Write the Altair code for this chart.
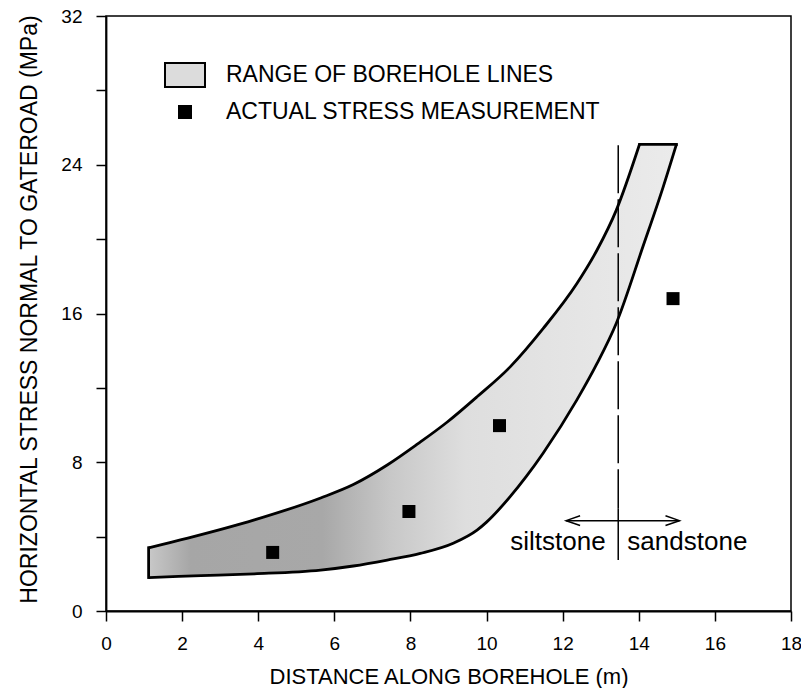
import altair as alt
import pandas as pd

# ---- data ----
lower_x = [1.12, 2.5, 3.9, 5.64, 6.5, 7.39, 8.26, 9.14, 9.75, 10.0, 10.62, 11.05, 11.49, 12.37, 12.9, 13.41, 14.11, 14.64, 14.99]
lower_y = [1.80, 1.90, 2.00, 2.20, 2.42, 2.74, 3.10, 3.66, 4.35, 4.78, 6.15, 7.25, 8.50, 11.34, 13.3, 15.48, 19.6, 22.8, 25.1]
upper_x = [1.12, 2.15, 3.9, 5.64, 6.5, 7.39, 8.2, 8.96, 9.75, 10.62, 11.49, 12.37, 12.9, 13.41, 14.02]
upper_y = [3.40, 3.92, 4.9, 6.08, 6.8, 7.85, 9.0, 10.15, 11.52, 13.13, 15.2, 17.6, 19.4, 21.56, 25.1]

meas_x = [4.38, 7.96, 10.34, 14.9]
meas_y = [3.15, 5.35, 9.97, 16.8]

series_names = ["RANGE OF BOREHOLE LINES", "ACTUAL STRESS MEASUREMENT"]

boundary_x = 13.46
boundary_top = 25.05
boundary_mid = 5.5
boundary_bottom = 2.74
arrow_y = 4.86
arrow_left = 12.09
arrow_right = 15.07
rock_labels = ["siltstone", "sandstone"]
rock_label_x = [13.13, 13.70]
rock_label_y = 3.28

x_ticks = list(range(0, 19, 2))
y_ticks = list(range(0, 33, 4))

# ---- frames ----
poly_x = lower_x + upper_x[::-1] + [lower_x[0]]
poly_y = lower_y + upper_y[::-1] + [lower_y[0]]
band = pd.DataFrame({"x": poly_x, "y": poly_y, "i": list(range(len(poly_x)))})
lower_df = pd.DataFrame({"x": lower_x, "y": lower_y})
upper_df = pd.DataFrame({"x": upper_x, "y": upper_y})
left_edge = pd.DataFrame({"x": [lower_x[0]], "y": [lower_y[0]], "y2": [upper_y[0]]})
top_edge = pd.DataFrame({"x": [upper_x[-1]], "x2": [lower_x[-1]], "y": [lower_y[-1]]})
meas = pd.DataFrame({"x": meas_x, "y": meas_y, "series": [series_names[1]] * len(meas_x)})
dash_df = pd.DataFrame({"x": [boundary_x], "y": [boundary_top], "y2": [boundary_mid]})
solid_df = pd.DataFrame({"x": [boundary_x], "y": [boundary_mid], "y2": [boundary_bottom]})
arrow_df = pd.DataFrame({"x": [arrow_left], "x2": [arrow_right], "y": [arrow_y]})
lhead = pd.DataFrame({"x": [arrow_left], "y": [arrow_y]})
rhead = pd.DataFrame({"x": [arrow_right], "y": [arrow_y]})
silt = pd.DataFrame({"x": [rock_label_x[0]], "y": [rock_label_y], "t": [rock_labels[0]]})
sand = pd.DataFrame({"x": [rock_label_x[1]], "y": [rock_label_y], "t": [rock_labels[1]]})

FONT = "Liberation Sans"

xs = alt.Scale(domain=[0, 18], nice=False, zero=False)
ys = alt.Scale(domain=[0, 32], nice=False, zero=False)

xaxis = alt.Axis(values=x_ticks, title="DISTANCE ALONG BOREHOLE (m)", grid=False,
                 tickSize=10, tickWidth=1.5, tickColor="black", domainColor="black",
                 domainWidth=2, labelFont=FONT, labelFontSize=19, labelColor="black",
                 labelBaseline="alphabetic", labelPadding=28, labelFlush=False,
                 titleFont=FONT, titleFontSize=22, titleFontWeight="normal",
                 titleColor="black", titleBaseline="alphabetic", titleY=72)
yaxis = alt.Axis(values=y_ticks, labelExpr="datum.value % 8 == 0 ? datum.label : ''",
                 title="HORIZONTAL STRESS NORMAL TO GATEROAD (MPa)", grid=False,
                 tickSize=10, tickWidth=1.5, tickColor="black", domainColor="black",
                 domainWidth=1.8, labelFont=FONT, labelFontSize=19, labelColor="black",
                 labelPadding=14, labelFlush=False,
                 titleFont=FONT, titleFontSize=23, titleFontWeight="normal",
                 titleColor="black", titleBaseline="alphabetic", titleAngle=270,
                 titleX=-70, titleY=293)

X = alt.X("x:Q", scale=xs, axis=xaxis)
Y = alt.Y("y:Q", scale=ys, axis=yaxis)

grad = alt.Gradient(gradient="linear", x1=0, x2=1, y1=0, y2=0, stops=[
    alt.GradientStop(offset=0.0, color="#c8c8c8"),
    alt.GradientStop(offset=0.08, color="#a6a6a6"),
    alt.GradientStop(offset=0.33, color="#a8a8a8"),
    alt.GradientStop(offset=0.46, color="#c8c8c8"),
    alt.GradientStop(offset=0.6, color="#dedede"),
    alt.GradientStop(offset=1.0, color="#ebebeb"),
])

fill_layer = alt.Chart(band).mark_line(
    fill=grad, strokeOpacity=0, interpolate="linear"
).encode(x=X, y=Y, order=alt.Order("i:Q"))

stroke_kw = dict(color="black", strokeWidth=2.8)
lower_layer = alt.Chart(lower_df).mark_line(interpolate="monotone", **stroke_kw).encode(x=X, y=Y)
upper_layer = alt.Chart(upper_df).mark_line(interpolate="monotone", **stroke_kw).encode(x=X, y=Y)
left_layer = alt.Chart(left_edge).mark_rule(strokeCap="square", **stroke_kw).encode(x=X, y=Y, y2="y2:Q")
top_layer = alt.Chart(top_edge).mark_rule(strokeCap="square", **stroke_kw).encode(x=X, x2="x2:Q", y=Y)

rect_path = "M-1,-0.6H1V0.6H-1Z"
sq_path = "M-0.3,-0.3H0.3V0.3H-0.3Z"
leg = alt.Legend(title=None, orient="none", legendX=58, legendY=38, symbolSize=1600,
                 symbolStrokeColor="black", symbolStrokeWidth=2, labelFont=FONT,
                 labelFontSize=23, labelColor="black", labelOffset=20, rowPadding=-4,
                 padding=0, labelLimit=500)

meas_layer = alt.Chart(meas).mark_point(filled=True, size=1880, opacity=1).encode(
    x=X, y=Y,
    color=alt.Color("series:N", scale=alt.Scale(domain=series_names, range=["#dcdcdc", "black"]), legend=leg),
    shape=alt.Shape("series:N", scale=alt.Scale(domain=series_names, range=[rect_path, sq_path]), legend=leg),
)

dash_layer = alt.Chart(dash_df).mark_rule(color="black", strokeWidth=1.5, strokeDash=[48, 6]).encode(
    x=X, y=Y, y2="y2:Q")
solid_layer = alt.Chart(solid_df).mark_rule(color="black", strokeWidth=1.5).encode(
    x=X, y=Y, y2="y2:Q")
arrow_layer = alt.Chart(arrow_df).mark_rule(color="black", strokeWidth=1.5).encode(
    x=X, x2="x2:Q", y=Y)
lhead_layer = alt.Chart(lhead).mark_point(shape="M1,-0.35L0,0L1,0.35", size=784, filled=False,
                                          stroke="black", strokeWidth=1.5, opacity=1).encode(x=X, y=Y)
rhead_layer = alt.Chart(rhead).mark_point(shape="M-1,-0.35L0,0L-1,0.35", size=784, filled=False,
                                          stroke="black", strokeWidth=1.5, opacity=1).encode(x=X, y=Y)
silt_layer = alt.Chart(silt).mark_text(align="right", baseline="alphabetic", font=FONT,
                                       fontSize=26, color="black").encode(x=X, y=Y, text="t:N")
sand_layer = alt.Chart(sand).mark_text(align="left", baseline="alphabetic", font=FONT,
                                       fontSize=26, color="black").encode(x=X, y=Y, text="t:N")

chart = alt.layer(fill_layer, lower_layer, upper_layer, left_layer, top_layer,
                  dash_layer, solid_layer, arrow_layer, lhead_layer, rhead_layer,
                  silt_layer, sand_layer, meas_layer).properties(
    width=685, height=595, autosize="none",
    padding={"left": 98, "top": 8, "right": 10, "bottom": 77},
    background="white",
).configure_view(stroke="black", strokeWidth=1.5)

chart.save("out.html", embed_options={"renderer": "svg", "actions": False})
